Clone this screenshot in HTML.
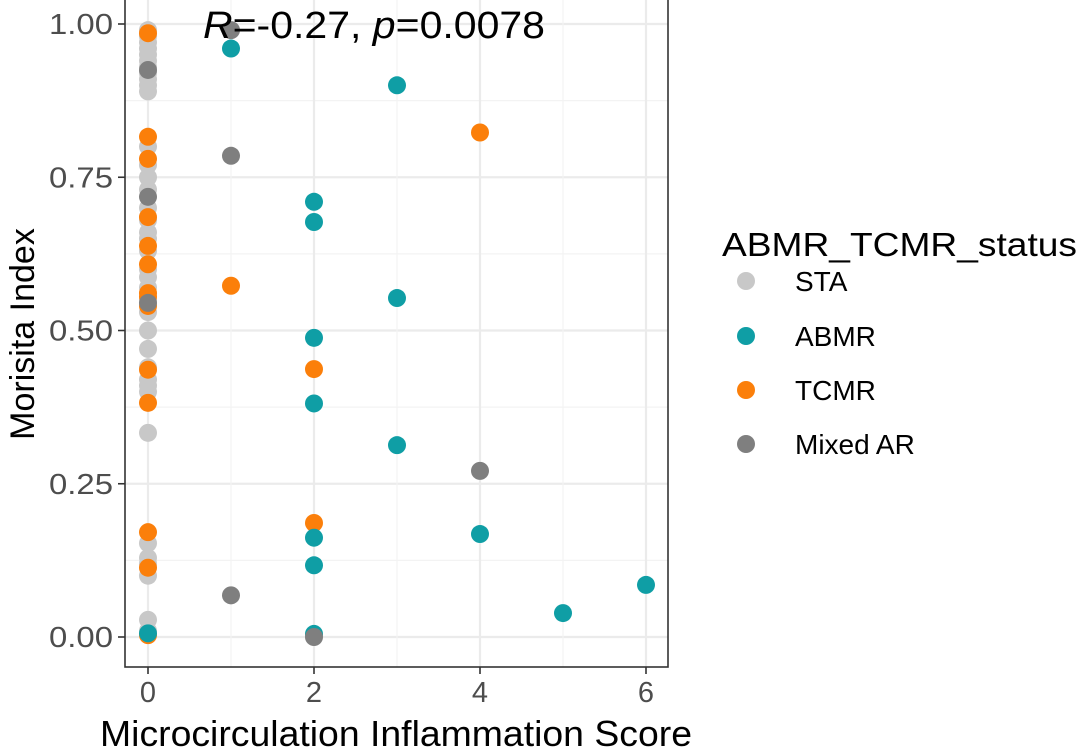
<!DOCTYPE html>
<html><head><meta charset="utf-8"><style>
html,body{margin:0;padding:0;background:#fff;}
svg{display:block;font-family:"Liberation Sans",sans-serif;}
</style></head><body>
<svg id="chart" width="1080" height="752" viewBox="0 0 1080 752">
<g id="grid"></g>
<g id="pts"></g>
<rect x="125" y="-1" width="543" height="668" fill="none" stroke="#333" stroke-width="1.6"/>
<g id="axes"></g>
<text x="203" y="38" font-size="38" fill="#000" textLength="342" lengthAdjust="spacingAndGlyphs"><tspan font-style="italic">R</tspan>=-0.27, <tspan font-style="italic">p</tspan>=0.0078</text>
<text x="396" y="746" font-size="36" text-anchor="middle" fill="#000" textLength="592" lengthAdjust="spacingAndGlyphs">Microcirculation Inflammation Score</text>
<text transform="translate(34,334) rotate(-90)" font-size="34" text-anchor="middle" fill="#000">Morisita Index</text>
<g id="legend">
<text x="722" y="256" font-size="33" fill="#000" textLength="355" lengthAdjust="spacingAndGlyphs">ABMR_TCMR_status</text>
</g>
</svg>
<script>
const groups = ["STA","ABMR","TCMR","Mixed AR"];
const colors = ["#c8c8c8","#0f9ea5","#fb7f0a","#7f7f7f"];
const xTicks = [0,2,4,6];
const yTicks = [0,0.25,0.5,0.75,1];
const yTickLabels = ["0.00","0.25","0.50","0.75","1.00"];
const staX = [0,0,0,0,0,0,0,0,0,0,0,0,0,0,0,0,0,0,0,0,0,0,0,0,0,0,0,0,0,0,0,0,0,0,0,0,0,0];
const staY = [0.99,0.98,0.97,0.96,0.95,0.94,0.93,0.92,0.91,0.90,0.89,0.80,0.77,0.75,0.73,0.70,0.68,0.66,0.63,0.60,0.587,0.55,0.53,0.50,0.47,0.44,0.41,0.40,0.333,0.153,0.129,0.12,0.10,0.028,0.01,0.57,0.65,0.42];
const abmrX = [0,1,2,2,2,2,2,2,2,3,3,3,4,5,6];
const abmrY = [0.006,0.96,0.71,0.677,0.488,0.381,0.162,0.117,0.005,0.90,0.553,0.313,0.168,0.039,0.085];
const tcmrX = [0,0,0,0,0,0,0,0,0,0,0,0,0,0,1,2,2,4];
const tcmrY = [0.985,0.816,0.78,0.685,0.638,0.608,0.561,0.54,0.436,0.382,0.171,0.113,0.003,0.555,0.573,0.437,0.186,0.823];
const mixX = [0,0,0,1,1,1,2,4];
const mixY = [0.925,0.718,0.545,0.99,0.785,0.068,0.0,0.271];

const NS="http://www.w3.org/2000/svg";
const xs = v => 148 + v*83;
const ys = v => 637 - v*613;
function mk(tag, attrs, parent){const e=document.createElementNS(NS,tag);for(const k in attrs)e.setAttribute(k,attrs[k]);parent.appendChild(e);return e;}
const grid=document.getElementById('grid'), axes=document.getElementById('axes'), pts=document.getElementById('pts'), legend=document.getElementById('legend');
for(let i=0;i<yTicks.length;i++){
  const y=ys(yTicks[i]);
  const l=mk('line',{x1:125,x2:668,y1:y,y2:y,stroke:'#ebebeb','stroke-width':2.2},grid);
  
  
  if(i<yTicks.length-1){const ym=ys((yTicks[i]+yTicks[i+1])/2);
    const m=mk('line',{x1:125,x2:668,y1:ym,y2:ym,stroke:'#f3f3f3','stroke-width':1.2},grid);
    
    }
  mk('line',{x1:118,x2:125,y1:y,y2:y,stroke:'#333','stroke-width':1.6},axes);
  const t=mk('text',{x:113,y:y+10,'font-size':29,'text-anchor':'end',fill:'#4d4d4d',textLength:64,lengthAdjust:'spacingAndGlyphs'},axes);
  t.textContent=yTickLabels[i];
  
  
}
for(let i=0;i<xTicks.length;i++){
  const x=xs(xTicks[i]);
  const l=mk('line',{x1:x,x2:x,y1:0,y2:667,stroke:'#ebebeb','stroke-width':2.2},grid);
  
  
  if(i<xTicks.length-1){const xm=xs((xTicks[i]+xTicks[i+1])/2);
    const m=mk('line',{x1:xm,x2:xm,y1:0,y2:667,stroke:'#f3f3f3','stroke-width':1.2},grid);
    
    }
  mk('line',{x1:x,x2:x,y1:667,y2:674,stroke:'#333','stroke-width':1.6},axes);
  const t=mk('text',{x:x,y:702,'font-size':29,'text-anchor':'middle',fill:'#4d4d4d'},axes);
  t.textContent=String(xTicks[i]);
  
  
}
const series=[[staX,staY],[abmrX,abmrY],[tcmrX,tcmrY],[mixX,mixY]];
const order=[0,2,1,3];
order.forEach(g=>{
  const [X,Y]=series[g];
  for(let i=0;i<X.length;i++){
    const c=mk('circle',{cx:xs(X[i]),cy:ys(Y[i]),r:9,fill:colors[g]},pts);
    
    
  }
});
const ly=[281,336,390,444];
groups.forEach((g,i)=>{
  const c=mk('circle',{cx:746,cy:ly[i],r:9,fill:colors[i]},legend);
  
  
  const t=mk('text',{x:795,y:ly[i]+10,'font-size':28,fill:'#000'},legend);
  t.textContent=g;
  
  
});
</script>
</body></html>
